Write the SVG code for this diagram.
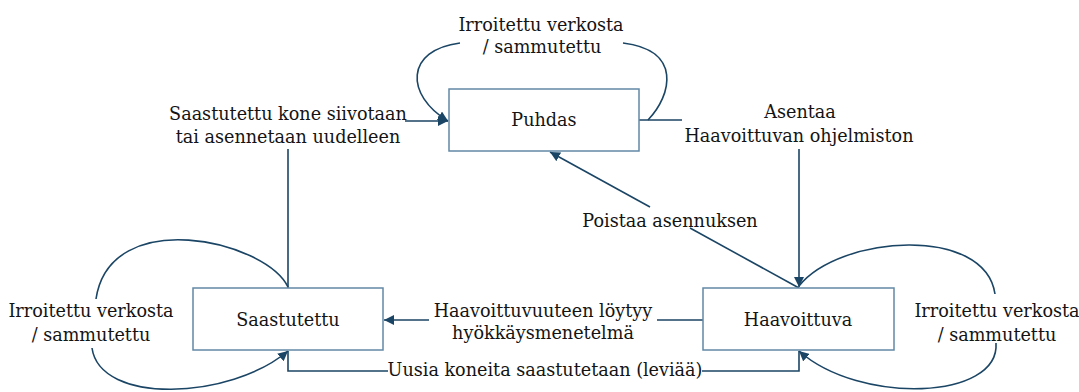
<svg xmlns="http://www.w3.org/2000/svg" width="1079" height="392" viewBox="0 0 1079 392">
  <style>
    .node { fill: #ffffff; stroke: #6388a6; stroke-width: 1.5; }
    .edge { fill: none; stroke: #1b4565; stroke-width: 1.6; }
    .label { font-family: "DejaVu Serif", "Liberation Serif", serif; font-size: 17.6px; fill: #141414; text-anchor: middle; }
  </style>
  <defs>
    <marker id="arrow" viewBox="0 0 10 10" refX="10" refY="5" markerWidth="10" markerHeight="10" markerUnits="userSpaceOnUse" orient="auto">
      <path d="M0,0 L10,5 L0,10 z" fill="#1b4565"/>
    </marker>
  </defs>
  <rect width="1079" height="392" fill="#ffffff"/>

  <g id="connectors">
    <!-- Saastutettu -> Puhdas -->
    <path class="edge" d="M288,288 V149"/>
    <path class="edge" d="M405,121 H448" marker-end="url(#arrow)"/>
    <text class="label" x="288" y="120">Saastutettu kone siivotaan</text>
    <text class="label" x="288" y="143">tai asennetaan uudelleen</text>

    <!-- Puhdas -> Haavoittuva -->
    <path class="edge" d="M639,120 H682"/>
    <path class="edge" d="M799,149 V287" marker-end="url(#arrow)"/>
    <text class="label" x="800" y="118">Asentaa</text>
    <text class="label" x="799" y="142">Haavoittuvan ohjelmiston</text>

    <!-- Haavoittuva -> Puhdas -->
    <path class="edge" d="M799,288 L690,228"/>
    <path class="edge" d="M650,207 L550,152" marker-end="url(#arrow)"/>
    <text class="label" x="670" y="227">Poistaa asennuksen</text>

    <!-- Haavoittuva -> Saastutettu -->
    <path class="edge" d="M703,320 H657"/>
    <path class="edge" d="M429,320 H384" marker-end="url(#arrow)"/>
    <text class="label" x="543" y="317">Haavoittuvuuteen löytyy</text>
    <text class="label" x="543" y="339">hyökkäysmenetelmä</text>

    <!-- Saastutettu <-> Haavoittuva spreading -->
    <path class="edge" d="M288,351 V371 H388"/>
    <path class="edge" d="M702,371 H799 V351"/>
    <text class="label" x="545" y="376">Uusia koneita saastutetaan (leviää)</text>

    <!-- self loops: Puhdas -->
    <path class="edge" d="M648,120 C672,95 682,50 623,43"/>
    <path class="edge" d="M460,43 C405,50 405,95 448,121" marker-end="url(#arrow)"/>
    <text class="label" x="541" y="31">Irroitettu verkosta</text>
    <text class="label" x="542" y="53">/ sammutettu</text>

    <!-- self loops: Saastutettu -->
    <path class="edge" d="M288,287 C265,240 110,205 96,299"/>
    <path class="edge" d="M92,348 C100,405 230,400 288,351" marker-end="url(#arrow)"/>
    <text class="label" x="91" y="317">Irroitettu verkosta</text>
    <text class="label" x="91" y="341">/ sammutettu</text>

    <!-- self loops: Haavoittuva -->
    <path class="edge" d="M799,286 C840,235 985,225 995,294"/>
    <path class="edge" d="M996,343 C1000,400 860,405 799,351" marker-end="url(#arrow)"/>
    <text class="label" x="997" y="317">Irroitettu verkosta</text>
    <text class="label" x="997" y="341">/ sammutettu</text>
  </g>

  <g id="node-puhdas">
    <rect class="node" x="449" y="89" width="190" height="62"/>
    <text class="label" x="544" y="126">Puhdas</text>
  </g>
  <g id="node-saastutettu">
    <rect class="node" x="193" y="288" width="190" height="62"/>
    <text class="label" x="288" y="326">Saastutettu</text>
  </g>
  <g id="node-haavoittuva">
    <rect class="node" x="703" y="288" width="191" height="62"/>
    <text class="label" x="798" y="326">Haavoittuva</text>
  </g>
</svg>
